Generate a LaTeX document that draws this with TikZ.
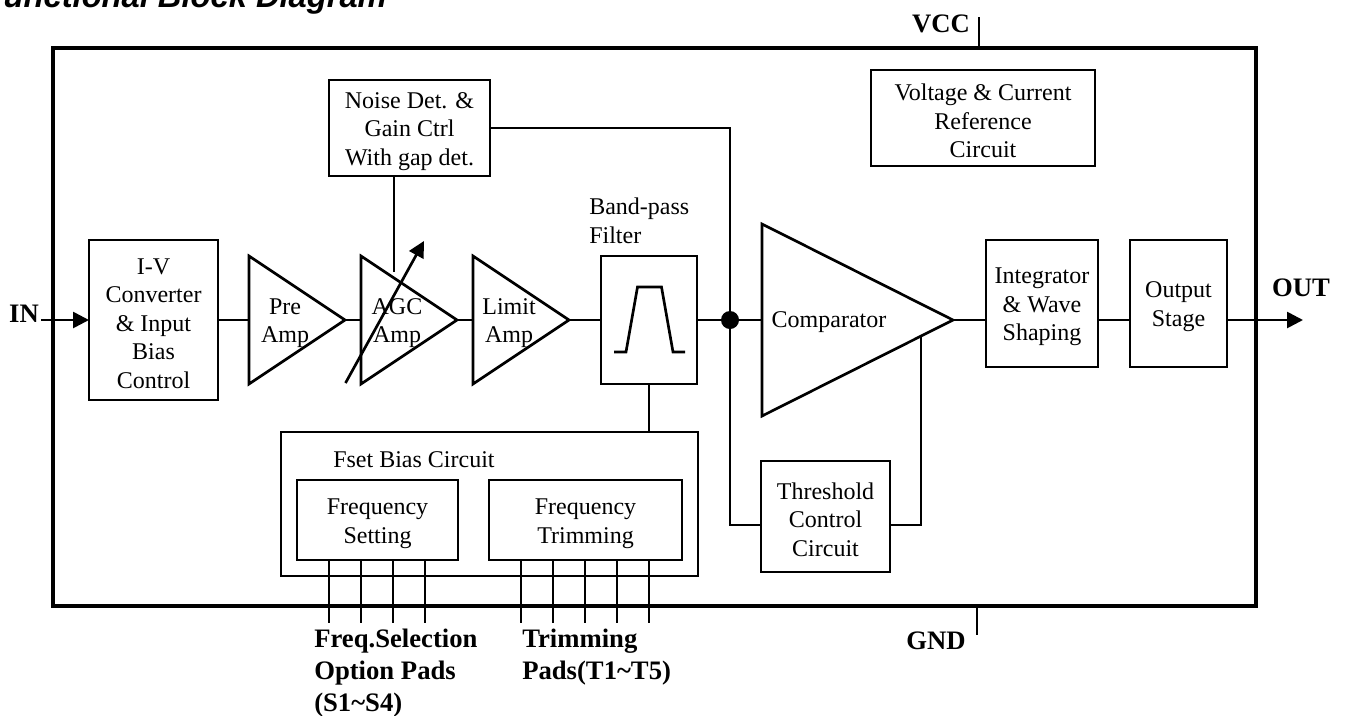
\documentclass[tikz,border=0pt]{standalone}
\usepackage{fontspec}
\setmainfont{Liberation Serif}
\newfontfamily\titlefont{Liberation Sans}
\usetikzlibrary{arrows.meta,calc}

\newcommand{\boxtop}{\rule{0pt}{17pt}}
\tikzset{
  wire/.style={line width=2pt},
  tipwire/.style={wire,-{Triangle[length=12pt,width=12pt]}},
  blockbox/.style 2 args={draw,line width=2pt,inner sep=0pt,outer sep=0pt,align=center,
    minimum width=#1*0.75pt,minimum height=#2*0.75pt,font=\fontsize{18pt}{21.4pt}\selectfont},
  lbl/.style={inner sep=0pt,align=center,font=\fontsize{18pt}{21.4pt}\selectfont},
  pinlbl/.style={inner sep=0pt,align=left,font=\fontsize{20pt}{24pt}\selectfont\bfseries},
}

\begin{document}
\begin{tikzpicture}[x=0.75pt,y=-0.75pt,line join=miter]
  \useasboundingbox (0,0) rectangle (1345,715);
  \node[anchor=base east,inner sep=0pt,font=\titlefont\fontsize{24.5pt}{28pt}\selectfont\bfseries\itshape] (title) at (387,7) {Functional Block Diagram};
  \node[draw,line width=3.4pt,inner sep=0pt,outer sep=0pt,minimum width=1203*0.75pt,minimum height=558*0.75pt] (chip) at (654.5,327) {};

  % blocks
  \node[blockbox={129}{160}] (iv) at (153.5,320) {\boxtop I-V\\Converter\\\& Input\\Bias\\Control};
  \node[blockbox={161}{96}] (noise) at (409.5,128) {\boxtop Noise Det. \&\\Gain Ctrl\\With gap det.};
  \node[blockbox={96}{128}] (bpf) at (649,320) {};
  \node[blockbox={224}{96}] (vref) at (983,118) {\boxtop Voltage \& Current\\Reference\\Circuit};
  \node[blockbox={112}{127}] (intg) at (1042,303.5) {\boxtop Integrator\\\& Wave\\Shaping};
  \node[blockbox={97}{127}] (outst) at (1178.5,303.5) {\boxtop Output\\Stage};
  \node[blockbox={129}{111}] (thres) at (825.5,516.5) {\boxtop Threshold\\Control\\Circuit};
  \node[blockbox={417}{144}] (fset) at (489.5,504) {};
  \node[blockbox={161}{80}] (fsetting) at (377.5,520) {\boxtop Frequency\\Setting};
  \node[blockbox={193}{80}] (ftrim) at (585.5,520) {\boxtop Frequency\\Trimming};
  \node[lbl,anchor=west] (fsetlbl) at (333,460) {Fset Bias Circuit};
  \node[lbl,anchor=south west,align=left] (bpflbl) at (589,244) {Band-pass\\Filter};

  % amps
  \foreach \name/\x in {pre/249,agc/361,lim/473} {
    \coordinate (\name top) at (\x,256);
    \coordinate (\name bot) at (\x,384);
    \coordinate (\name tip) at ($(\x,320)+(96,0)$);
    \coordinate (\name in) at (\x,320);
    \draw[wire] (\name top)--(\name tip)--(\name bot)--cycle;
  }
  \node[lbl] (prelbl) at (285,323) {Pre\\Amp};
  \node[lbl] (agclbl) at (397,323) {AGC\\Amp};
  \node[lbl] (limlbl) at (509,323) {Limit\\Amp};
  \coordinate (cmptop) at (762,224);
  \coordinate (cmpbot) at (762,416);
  \coordinate (cmptip) at (953,320);
  \coordinate (cmpin) at (762,320);
  \draw[wire] (cmptop)--(cmptip)--(cmpbot)--cycle;
  \node[lbl] (cmplbl) at (829,322) {Comparator};

  % band-pass sketch
  \draw[wire] (614,352)--(626,352)--(637.5,287)--(661.5,287)--(673,352)--(685,352);

  % signal path
  \coordinate (infree) at (41,320);
  \coordinate (outfree) at (1303,320);
  \draw[tipwire] (infree)--(iv.west);
  \draw[wire] (iv.east)--(prein);
  \draw[wire] (pretip)--(agcin);
  \draw[wire] (agctip)--(limin);
  \draw[wire] (limtip)--(bpf.west);
  \draw[wire] (bpf.east)--(cmpin);
  \draw[wire] (cmptip)--(intg.west |- cmptip);
  \draw[wire] (intg.east |- cmptip)--(outst.west |- cmptip);
  \draw[tipwire] (outst.east |- cmptip)--(outfree);

  % gain control
  \coordinate (agcctl) at (394,272);
  \coordinate (agclow) at (345.5,383);
  \coordinate (agchigh) at (424,241);
  \coordinate (tap) at (730,320);
  \draw[wire] (noise.south -| agcctl)--(agcctl);
  \draw[tipwire] (agclow)--(agchigh);
  \draw[wire] (noise.east)--(noise.east -| tap)--(tap);
  \fill (tap) circle (9);

  % threshold loop
  \coordinate (cmpfb) at (921,336);
  \coordinate (thrlevel) at (825.5,525);
  \draw[wire] (tap)--(tap |- thrlevel)--(thres.west |- thrlevel);
  \draw[wire] (thres.east |- thrlevel)--(cmpfb |- thrlevel)--(cmpfb);
  \draw[wire] (bpf.south)--(bpf.south |- fset.north);

  % pads
  \foreach \x in {329,361,393,425} {
    \coordinate (sel\x) at (\x,623);
    \draw[wire] (fsetting.south -| sel\x)--(sel\x);
  }
  \foreach \x in {521,553,585,617,649} {
    \coordinate (trm\x) at (\x,623);
    \draw[wire] (ftrim.south -| trm\x)--(trm\x);
  }

  % supply and pin labels
  \coordinate (vccfree) at (979,17);
  \coordinate (gndfree) at (977,635);
  \draw[wire] (vccfree)--(vccfree |- chip.north);
  \draw[wire] (gndfree |- chip.south)--(gndfree);
  \node[pinlbl] (vcc) at (941,24) {VCC};
  \node[pinlbl] (gnd) at (936,641) {GND};
  \node[pinlbl] (inlbl) at (24,314) {IN};
  \node[pinlbl] (outlbl) at (1301,288) {OUT};
  \node[pinlbl,anchor=north west] (sellbl) at (314,629) {Freq.Selection\\Option Pads\\(S1\textasciitilde S4)};
  \node[pinlbl,anchor=north west] (trmlbl) at (522,629) {Trimming\\Pads(T1\textasciitilde T5)};
\end{tikzpicture}
\end{document}
